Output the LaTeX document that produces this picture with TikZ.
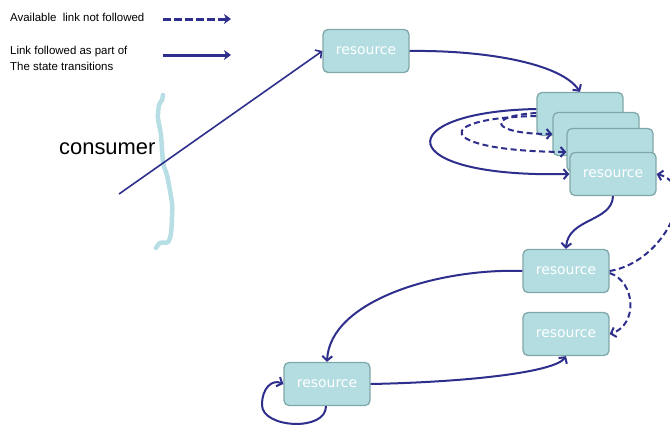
\documentclass[tikz,border=0pt]{standalone}
\usepackage{fontspec}
\usetikzlibrary{arrows.meta}
\setmainfont{Liberation Sans}
\newfontfamily\boxfont{DejaVu Sans}
\definecolor{linkblue}{RGB}{46,46,140}
\definecolor{boxfill}{RGB}{180,221,225}
\definecolor{boxedge}{RGB}{128,168,170}
\definecolor{wiggle}{RGB}{182,222,228}

\begin{document}
\begin{tikzpicture}[x=1bp,y=-1bp]
   \tikzstyle{resbox}=[draw=boxedge, fill=boxfill, line width=1.3bp, rounded corners=5bp, minimum width=86bp, minimum height=43bp, inner sep=0pt, text=white, font=\boxfont\fontsize{14}{16}\selectfont]
   \tikzstyle{followed}=[draw=linkblue, line width=2bp, -{Straight Barb[length=4.5bp, width=10bp]}]
   \tikzstyle{notfollowed}=[followed, dash pattern=on 6bp off 3.5bp]
   \tikzstyle{legend}=[anchor=west, align=left, inner sep=0pt, font=\fontsize{11.5}{16}\selectfont]

\clip (0,0) rectangle (670,425);

\node[legend] (nf) at (10,17) {Available\ \ link not followed};
\node[legend] (fw) at (10,58) {Link followed as part of\\The state transitions};
\coordinate (nfa) at (163,19);
\coordinate (nfb) at (231,19);
\coordinate (fwa) at (163,55);
\coordinate (fwb) at (231,55);
\draw[notfollowed, line width=3bp, dash pattern=on 7.5bp off 3.5bp, -{Stealth[length=7bp, width=10bp, inset=2bp]}] (nfa) -- (nfb);
\draw[followed, line width=3bp, -{Stealth[length=7bp, width=10bp, inset=2bp]}] (fwa) -- (fwb);

\draw[wiggle, line width=4.5bp, line cap=round] plot[smooth, tension=0.5] coordinates {(163,95) (162,100) (159,105) (158,118) (161,135) (163,162) (166,172) (168,180) (172,203) (172,217) (171,233) (168,242) (160,243) (156,248)};
\node[anchor=west, inner sep=0pt, font=\fontsize{22}{24}\selectfont] (consumer) at (59,149) {consumer};

\node[resbox] (top) at (366,51) {resource};
\node[resbox] (stack1) at (580,114) {};
\node[resbox] (stack2) at (596,134) {};
\node[resbox] (stack3) at (610,150) {};
\node[resbox] (stack4) at (613,174) {resource};
\node[resbox] (mid) at (566,271) {resource};
\node[resbox] (low) at (566,334) {resource};
\node[resbox] (bottom) at (327,384) {resource};

\coordinate (start) at (119,194);
\draw[followed, line width=1.6bp] (start) -- (top.west);
\draw[followed] (top.east) .. controls (480,50) and (560,62) .. (stack1.north);
\draw[followed] (stack1.west) ++(0,-5) .. controls (390,112) and (390,178) .. (stack4.west);
\draw[notfollowed] (stack1.west) ++(0,-1) .. controls (485,116) and (490,134) .. (stack2.west);
\draw[notfollowed] (stack1.west) ++(0,2) .. controls (430,118) and (435,151) .. (stack3.west |- 0,152);
\draw[followed] (stack4.south) .. controls (612,222) and (568,218) .. (mid.north);
\draw[notfollowed] (mid.east) .. controls (665,262) and (700,185) .. (stack4.east);
\draw[notfollowed] (mid.east) ++(0,2) .. controls (636,282) and (638,325) .. (low.east);
\draw[followed] (mid.west) .. controls (440,268) and (330,300) .. (bottom.north);
\draw[followed] (bottom.east) .. controls (470,382) and (555,372) .. (low.south);
\draw[followed] (bottom.south) ++(-1,0) .. controls (326,432) and (262,428) .. (262,405) .. controls (262,388) and (272,379) .. (bottom.west);

\end{tikzpicture}
\end{document}
